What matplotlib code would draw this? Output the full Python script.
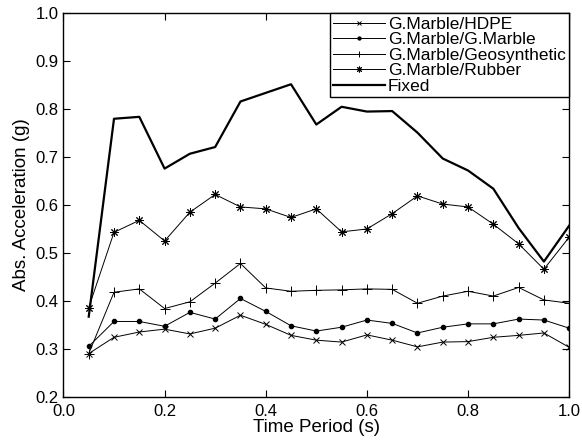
import numpy as np
import matplotlib
matplotlib.use('Agg')
import matplotlib.pyplot as plt

plt.rcParams['font.family'] = ['Liberation Sans', 'DejaVu Sans']

# Periodos (s) y aceleraciones absolutas (g)
period = [0.05, 0.10, 0.15, 0.20, 0.25, 0.30, 0.35, 0.40, 0.45, 0.50,
          0.55, 0.60, 0.65, 0.70, 0.75, 0.80, 0.85, 0.90, 0.95, 1.00]
hdpe = [0.290, 0.324, 0.335, 0.341, 0.331, 0.343, 0.370, 0.351, 0.328, 0.318,
        0.314, 0.329, 0.318, 0.304, 0.314, 0.315, 0.324, 0.328, 0.333, 0.303]
gmarble = [0.305, 0.357, 0.357, 0.347, 0.376, 0.362, 0.405, 0.378, 0.348, 0.337,
           0.345, 0.360, 0.353, 0.333, 0.345, 0.352, 0.352, 0.362, 0.360, 0.343]
geosynthetic = [0.290, 0.418, 0.425, 0.384, 0.398, 0.437, 0.478, 0.427, 0.420, 0.422,
                0.423, 0.425, 0.424, 0.395, 0.410, 0.420, 0.410, 0.428, 0.402, 0.395]
rubber = [0.386, 0.543, 0.568, 0.525, 0.585, 0.622, 0.596, 0.592, 0.574, 0.592,
          0.544, 0.550, 0.582, 0.619, 0.602, 0.596, 0.560, 0.519, 0.466, 0.533]
fixed = [0.367, 0.780, 0.784, 0.676, 0.707, 0.721, 0.816, 0.834, 0.852, 0.768,
         0.805, 0.795, 0.796, 0.751, 0.697, 0.672, 0.634, 0.552, 0.482, 0.557]

fig = plt.figure(figsize=(5.82, 4.44), dpi=100)
ax = fig.add_axes([0.109, 0.1065, 0.869, 0.8635])

thin = dict(color='k', linewidth=0.7)
ax.plot(period, hdpe, marker='x', markersize=4, markeredgewidth=0.7, label='G.Marble/HDPE', **thin)
ax.plot(period, gmarble, marker='o', markersize=3.0, label='G.Marble/G.Marble', **thin)
ax.plot(period, geosynthetic, marker='+', markersize=6.5, markeredgewidth=0.7, label='G.Marble/Geosynthetic', **thin)
ax.plot(period, rubber, marker=(8, 2, 0), markersize=6, markeredgewidth=0.7, label='G.Marble/Rubber', **thin)
ax.plot(period, fixed, color='k', linewidth=1.6, label='Fixed')

ax.set_xlim(0, 1)
ax.set_ylim(0.2, 1.0)
ax.set_xticks(np.arange(0, 1.01, 0.2))
ax.set_yticks(np.arange(0.2, 1.01, 0.1))
ax.xaxis.set_major_formatter(matplotlib.ticker.FormatStrFormatter('%.1f'))
ax.yaxis.set_major_formatter(matplotlib.ticker.FormatStrFormatter('%.1f'))
ax.tick_params(direction='in', top=True, right=True, labelsize=12, length=5, width=0.8)
ax.tick_params(axis='x', pad=5)
ax.tick_params(axis='y', pad=3.5)
for s in ax.spines.values():
    s.set_linewidth(1.0)

ax.set_xlabel('Time Period (s)', fontsize=13.5, labelpad=0)
ax.set_ylabel('Abs. Acceleration (g)', fontsize=13.5, labelpad=4)

leg = ax.legend(loc='upper right', fontsize=12.5, handlelength=3.0, handletextpad=0.15,
                labelspacing=0.02, borderpad=0.2, borderaxespad=0, fancybox=False,
                framealpha=1, edgecolor='k', markerscale=0.7)
leg.get_frame().set_linewidth(1.0)

fig.savefig('out.png', dpi=100)
